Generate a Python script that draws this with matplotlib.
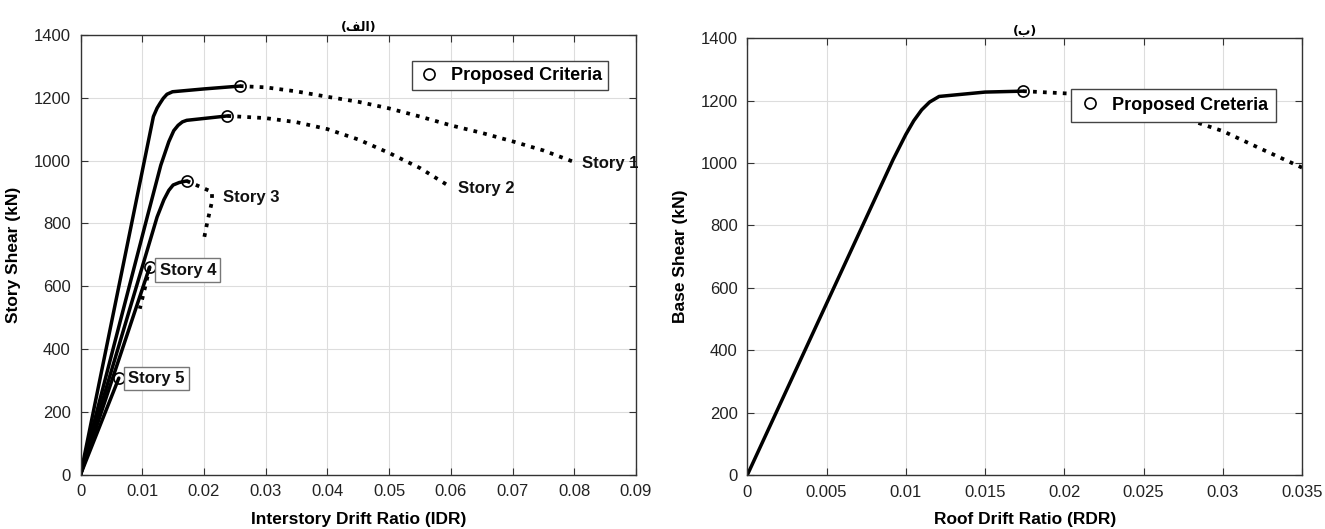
import matplotlib
matplotlib.use("Agg")
import matplotlib.pyplot as plt

plt.rcParams['font.family'] = ['Liberation Sans', 'DejaVu Sans']

# ---------------- data (left: story curves) ----------------
s1_solid_x = [0, 0.0118, 0.0124, 0.0129, 0.0134, 0.0140, 0.0149, 0.0200, 0.0258]
s1_solid_y = [0, 1140, 1167, 1183, 1198, 1211, 1219, 1228, 1237]
s1_dot_x = [0.0258, 0.030, 0.035, 0.040, 0.045, 0.050, 0.055, 0.060, 0.065, 0.070, 0.075, 0.080]
s1_dot_y = [1237, 1233, 1220, 1203, 1187, 1166, 1140, 1112, 1088, 1061, 1032, 995]

s2_solid_x = [0, 0.0108, 0.0130, 0.0143, 0.0151, 0.0158, 0.0165, 0.0172, 0.0238]
s2_solid_y = [0, 820, 985, 1060, 1095, 1112, 1123, 1128, 1142]
s2_dot_x = [0.0238, 0.030, 0.035, 0.040, 0.045, 0.050, 0.055, 0.060]
s2_dot_y = [1142, 1135, 1122, 1100, 1067, 1024, 976, 915]

s3_solid_x = [0, 0.0124, 0.0135, 0.0143, 0.0150, 0.0160, 0.0172]
s3_solid_y = [0, 820, 875, 905, 922, 930, 935]
s3_dot_x = [0.0172, 0.0213, 0.0213, 0.0205, 0.0200]
s3_dot_y = [935, 900, 870, 800, 751]

s4_solid_x = [0, 0.0112]
s4_solid_y = [0, 661]
s4_dot_x = [0.0112, 0.0105, 0.0096]
s4_dot_y = [661, 600, 528]

s5_solid_x = [0, 0.0062]
s5_solid_y = [0, 307]

crit_x = [0.0258, 0.0238, 0.0172, 0.0112, 0.0062]
crit_y = [1237, 1142, 935, 661, 307]

story_labels = ["Story 1", "Story 2", "Story 3", "Story 4", "Story 5"]
label_x = [0.0813, 0.0612, 0.0231, 0.0128, 0.0077]
label_y = [990, 912, 883, 651, 306]
label_boxed = [False, False, False, True, True]

left_xticks = [0, 0.01, 0.02, 0.03, 0.04, 0.05, 0.06, 0.07, 0.08, 0.09]
left_xtick_labels = ["0", "0.01", "0.02", "0.03", "0.04", "0.05", "0.06", "0.07", "0.08", "0.09"]
yticks = [0, 200, 400, 600, 800, 1000, 1200, 1400]

# ---------------- data (right: roof curve) ----------------
r_solid_x = [0, 0.0092, 0.0100, 0.0105, 0.0110, 0.0115, 0.0121, 0.0150, 0.0174]
r_solid_y = [0, 1011, 1091, 1135, 1170, 1195, 1213, 1227, 1230]
r_dot_x = [0.0174, 0.0204, 0.0230, 0.0268, 0.0300, 0.0325, 0.0350]
r_dot_y = [1230, 1222, 1200, 1156, 1102, 1043, 985]
r_crit_x = [0.0174]
r_crit_y = [1230]

right_xticks = [0, 0.005, 0.01, 0.015, 0.02, 0.025, 0.03, 0.035]
right_xtick_labels = ["0", "0.005", "0.01", "0.015", "0.02", "0.025", "0.03", "0.035"]

# Arabic titles (presentation forms in visual order so they render joined)
title_left = "(\ufed2\ufedf\ufe8d)"
title_right = "(\u0628)"

fig = plt.figure(figsize=(13.25, 5.29), dpi=100)
axL = fig.add_axes([0.0608, 0.103, 0.4192, 0.831])
axR = fig.add_axes([0.564, 0.102, 0.4187, 0.826])

LW = 2.5
DLW = 2.7
edge = '#333333'


def style(ax):
    ax.grid(True, color='#dddddd', linewidth=0.8)
    ax.set_axisbelow(True)
    for sp in ax.spines.values():
        sp.set_color(edge)
        sp.set_linewidth(1.0)
    ax.tick_params(direction='in', top=True, right=True, length=5,
                   color=edge, labelsize=12, labelcolor='#222222', pad=7)


# ---- left ----
for sx, sy in [(s1_solid_x, s1_solid_y), (s2_solid_x, s2_solid_y), (s3_solid_x, s3_solid_y),
               (s4_solid_x, s4_solid_y), (s5_solid_x, s5_solid_y)]:
    axL.plot(sx, sy, '-', color='black', lw=LW, solid_capstyle='round', solid_joinstyle='round')
for dx, dy in [(s1_dot_x, s1_dot_y), (s2_dot_x, s2_dot_y), (s3_dot_x, s3_dot_y), (s4_dot_x, s4_dot_y)]:
    axL.plot(dx, dy, ':', color='black', lw=DLW)
axL.plot(crit_x, crit_y, 'o', mfc='none', mec='black', ms=8, mew=1.2, ls='none',
         label='Proposed Criteria')

for t, x, y, b in zip(story_labels, label_x, label_y, label_boxed):
    kw = dict(fontsize=12, fontweight='bold', ha='left', va='center', color='#111111')
    if b:
        kw['bbox'] = dict(boxstyle='square,pad=0.25', fc='white', ec='#777777', lw=1.0)
    axL.text(x, y, t, **kw)

axL.set_xlim(0, 0.09)
axL.set_ylim(0, 1400)
axL.set_xticks(left_xticks)
axL.set_xticklabels(left_xtick_labels)
axL.set_yticks(yticks)
style(axL)
axL.set_xlabel("Interstory Drift Ratio (IDR)", fontsize=12.5, fontweight='bold', labelpad=9)
axL.set_ylabel("Story Shear (kN)", fontsize=12.5, fontweight='bold', labelpad=9)
axL.set_title(title_left, fontsize=9, fontweight='bold', family=['DejaVu Sans'], pad=3)
legL = axL.legend(loc='upper right', bbox_to_anchor=(0.966, 0.962), fancybox=False,
                  framealpha=1, edgecolor='#444444', prop=dict(size=13, weight='bold'),
                  handletextpad=0.6, borderpad=0.35, handlelength=1.2)
legL.get_frame().set_linewidth(1.0)

# ---- right ----
axR.plot(r_solid_x, r_solid_y, '-', color='black', lw=LW, solid_capstyle='round', solid_joinstyle='round')
axR.plot(r_dot_x, r_dot_y, ':', color='black', lw=DLW)
axR.plot(r_crit_x, r_crit_y, 'o', mfc='none', mec='black', ms=8, mew=1.2, ls='none',
         label='Proposed Creteria')
axR.set_xlim(0, 0.035)
axR.set_ylim(0, 1400)
axR.set_xticks(right_xticks)
axR.set_xticklabels(right_xtick_labels)
axR.set_yticks(yticks)
style(axR)
axR.set_xlabel("Roof Drift Ratio (RDR)", fontsize=12.5, fontweight='bold', labelpad=9)
axR.set_ylabel("Base Shear (kN)", fontsize=12.5, fontweight='bold', labelpad=9)
axR.set_title(title_right, fontsize=9, fontweight='bold', family=['DejaVu Sans'], pad=3)
legR = axR.legend(loc='upper right', bbox_to_anchor=(0.969, 0.905), fancybox=False,
                  framealpha=1, edgecolor='#444444', prop=dict(size=13, weight='bold'),
                  handletextpad=0.6, borderpad=0.45, handlelength=1.2)
legR.get_frame().set_linewidth(1.0)

fig.savefig("out.png", dpi=100)
